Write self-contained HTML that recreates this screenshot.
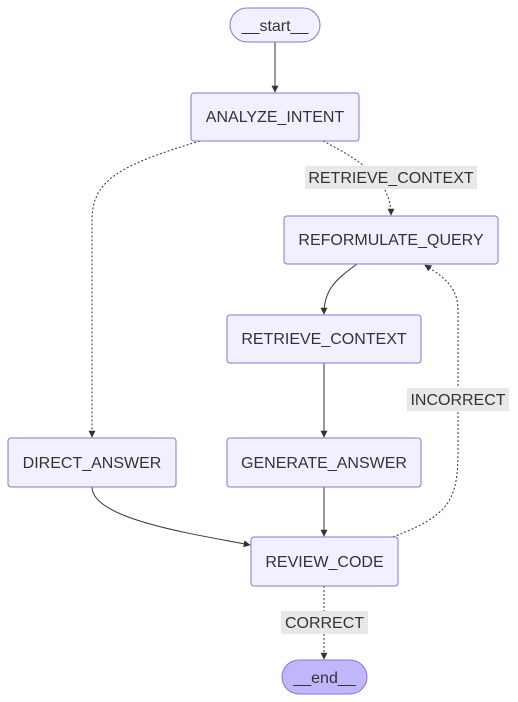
<!DOCTYPE html>
<html><head><meta charset="utf-8"><style>
html,body{margin:0;padding:0;background:#fff;}
svg{display:block;}
text{font-family:"Liberation Sans",Arial,sans-serif;font-size:16px;fill:#333;}
</style></head><body>
<svg width="518" height="702" viewBox="0 0 518 702" xmlns="http://www.w3.org/2000/svg">
<defs>
<marker id="a" viewBox="0 0 10 10" refX="9" refY="5" markerWidth="7" markerHeight="7" orient="auto"><path d="M0,0L10,5L0,10z" fill="#333"/></marker>
</defs>
<g fill="none" stroke="#333" stroke-width="1">
<path d="M275,42 L275,92" marker-end="url(#a)"/>
<path d="M323,141 C360,160 391,180 391,215" stroke-dasharray="2,2" marker-end="url(#a)"/>
<path d="M200,141 C120,165 92,180 92,220 L92,437" stroke-dasharray="2,2" marker-end="url(#a)"/>
<path d="M357,264 C335,280 324,290 324,314" marker-end="url(#a)"/>
<path d="M324,363 L324,437" marker-end="url(#a)"/>
<path d="M324,487 L324,536" marker-end="url(#a)"/>
<path d="M92,487 C92,520 200,535 250,545" marker-end="url(#a)"/>
<path d="M393,537 C450,515 458,500 458,450 L458,310 C458,285 440,275 425,265" stroke-dasharray="2,2" marker-end="url(#a)"/>
<path d="M324,586 L324,659" stroke-dasharray="2,2" marker-end="url(#a)"/>
</g>
<g fill="#e8e8e8">
<rect x="305" y="166" width="172" height="23"/>
<rect x="407" y="388" width="102" height="23"/>
<rect x="281" y="611" width="87" height="23"/>
</g>
<text x="391" y="183" text-anchor="middle">RETRIEVE_CONTEXT</text>
<text x="458" y="405" text-anchor="middle">INCORRECT</text>
<text x="324.5" y="628" text-anchor="middle">CORRECT</text>
<g fill="#f2f0ff" stroke="#9370db" stroke-width="1">
<rect x="230" y="8" width="90" height="34" rx="17"/>
<rect x="191" y="93" width="168" height="48" rx="3"/>
<rect x="284" y="216" width="214" height="48" rx="3"/>
<rect x="227" y="315" width="194" height="48" rx="3"/>
<rect x="8" y="438" width="168" height="49" rx="3"/>
<rect x="227" y="438" width="194" height="49" rx="3"/>
<rect x="251" y="537" width="147" height="49" rx="3"/>
<rect x="282" y="660" width="85" height="34" rx="17" fill="#bfb6fc"/>
</g>
<text x="275" y="31" text-anchor="middle">__start__</text>
<text x="275" y="122" text-anchor="middle">ANALYZE_INTENT</text>
<text x="391" y="245" text-anchor="middle">REFORMULATE_QUERY</text>
<text x="324" y="344" text-anchor="middle">RETRIEVE_CONTEXT</text>
<text x="92" y="468" text-anchor="middle">DIRECT_ANSWER</text>
<text x="324" y="468" text-anchor="middle">GENERATE_ANSWER</text>
<text x="324.5" y="567" text-anchor="middle">REVIEW_CODE</text>
<text x="324.5" y="683" text-anchor="middle">__end__</text>
</svg>
</body></html>
